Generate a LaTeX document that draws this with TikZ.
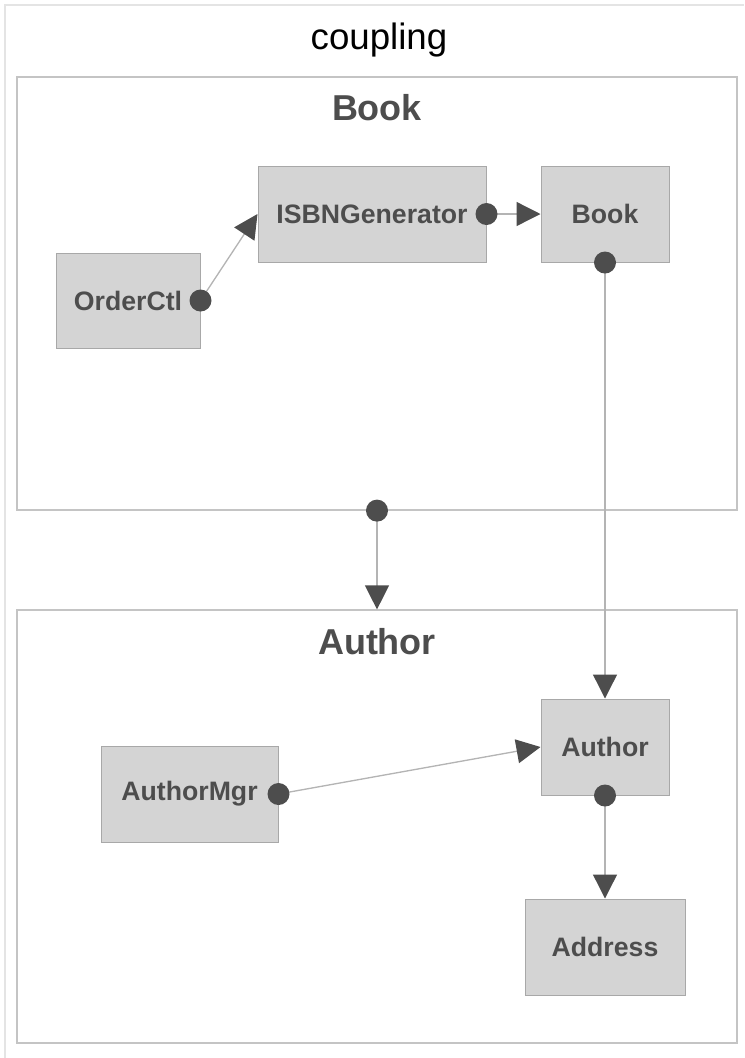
\documentclass[tikz,border=0pt]{standalone}
\usepackage{fontspec}
\setmainfont{Liberation Sans}
\usetikzlibrary{arrows.meta}

\definecolor{boxfill}{HTML}{D4D4D4}
\definecolor{boxline}{HTML}{A8A8A8}
\definecolor{inkgray}{HTML}{4D4D4D}
\definecolor{linkgray}{HTML}{B4B4B4}
\definecolor{panelline}{HTML}{C4C4C4}
\definecolor{frameline}{HTML}{E4E4E4}

\tikzset{
  px/.style={x=0.75pt, y=-0.75pt},
  classbox/.style={draw=boxline, line width=0.75pt, fill=boxfill, inner sep=0pt,
    text=inkgray, font=\bfseries\fontsize{20}{23}\selectfont},
  panel/.style={draw=panelline, line width=0.9pt, inner sep=0pt,
    minimum width=540pt, minimum height=324.75pt},
  paneltitle/.style={text=inkgray, font=\bfseries\fontsize{27}{30}\selectfont, inner sep=0pt},
  link/.style={draw=linkgray, line width=1pt,
    -{Triangle[length=18pt, width=18pt, color=inkgray]}},
  dot/.style={fill=inkgray}
}

\begin{document}
\begin{tikzpicture}[px]
  \useasboundingbox (0,0) rectangle (744,1058);

  % outer frame
  \draw[frameline, line width=1.2pt] (5,1058) -- (5,5) -- (744,5);
  \node[font=\fontsize{27.5}{30}\selectfont, inner sep=0pt] (title) at (379,40) {coupling};

  % panels
  \node[panel] (bookpanel) at (377,293.5) {};
  \node[paneltitle] (booktitle) at (377,108) {Book};
  \node[panel] (authorpanel) at (377,826.5) {};
  \node[paneltitle] (authortitle) at (377,642) {Author};

  % classes of the Book package
  \node[classbox, minimum width=171pt, minimum height=72pt] (isbn) at (372,214) {ISBNGenerator};
  \node[classbox, minimum width=96pt, minimum height=72pt] (book) at (605,214) {Book};
  \node[classbox, minimum width=108pt, minimum height=71.25pt] (order) at (128,300.5) {OrderCtl};

  % classes of the Author package
  \node[classbox, minimum width=96pt, minimum height=72pt] (author) at (605,747) {Author};
  \node[classbox, minimum width=132.75pt, minimum height=72pt] (mgr) at (189.5,794) {AuthorMgr};
  \node[classbox, minimum width=120pt, minimum height=72pt] (address) at (605,947) {Address};

  % dependencies
  \draw[link] (order.east) -- (isbn.west);
  \draw[link] (isbn.east) -- (book.west);
  \draw[link] (book.south) -- (author.north);
  \draw[link] (bookpanel.south) -- (authorpanel.north);
  \draw[link] (mgr.east) -- (author.west);
  \draw[link] (author.south) -- (address.north);

  % source ends
  \foreach \src in {order.east, isbn.east, book.south, bookpanel.south, author.south, mgr.east}
    \fill[dot] (\src) circle (8.25pt);
\end{tikzpicture}
\end{document}
